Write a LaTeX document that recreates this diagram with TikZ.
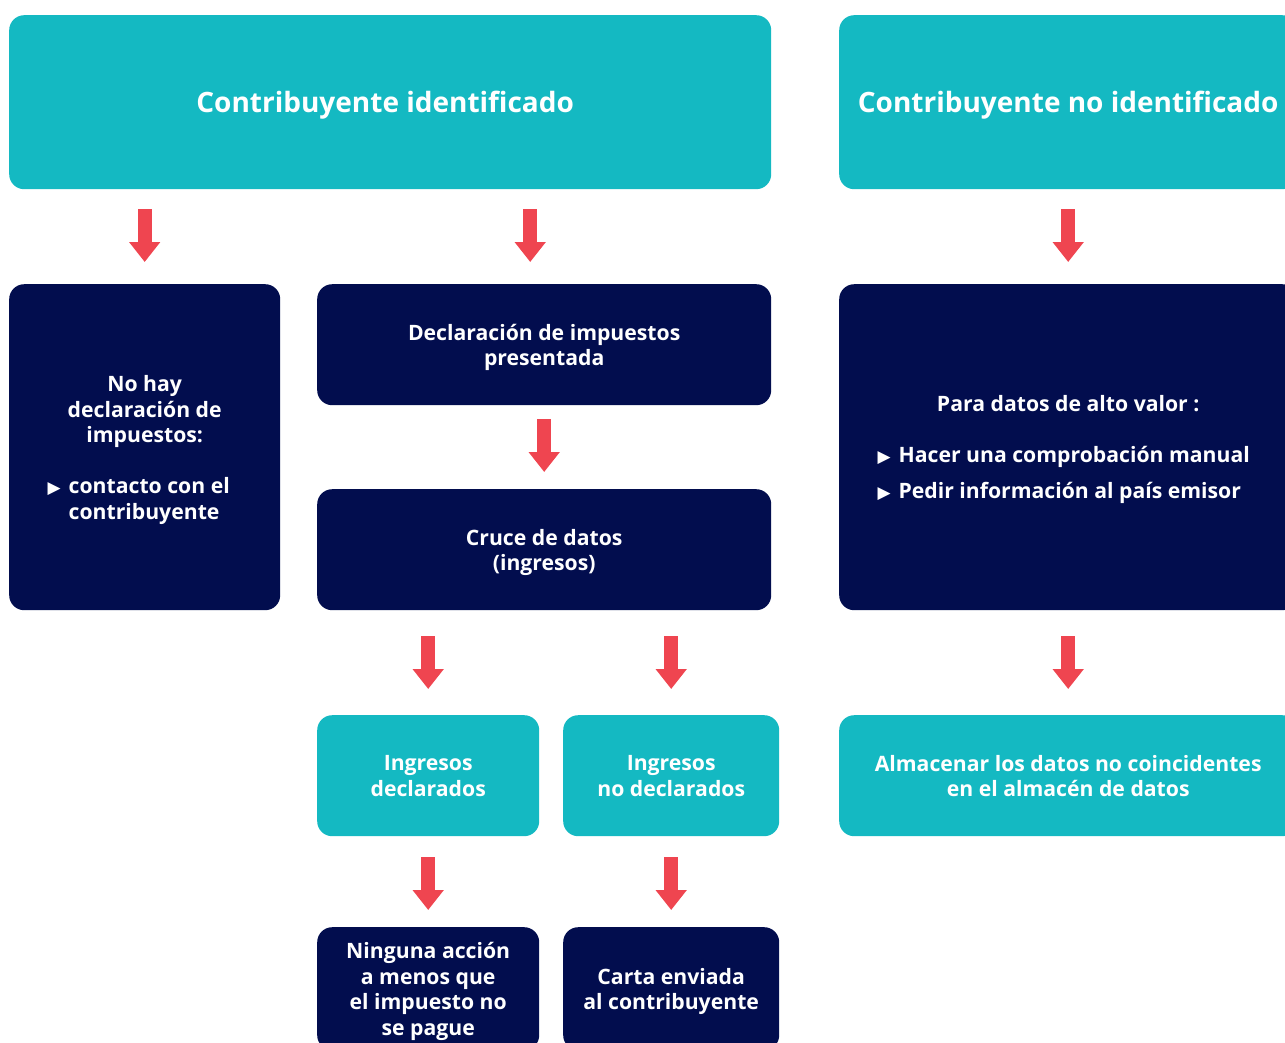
\documentclass[tikz,border=0pt]{standalone}
\usepackage{fontspec}
\setmainfont{Open Sans}
\newfontfamily\symfont{DejaVu Sans}
\usetikzlibrary{arrows.meta}

\definecolor{tealbox}{HTML}{14B9C2}
\definecolor{navybox}{HTML}{020D4E}
\definecolor{redarrow}{HTML}{EF4550}
\newcommand{\bul}{{\symfont\fontsize{17}{17}\selectfont ▶}}

\begin{document}
\begin{tikzpicture}[x=1pt, y=-1pt,
    box/.style={rounded corners=15pt, anchor=north west, align=center, text=white,
        inner sep=0pt, text depth=0pt, font=\bfseries\fontsize{21.2}{25.5}\selectfont},
    lightbox/.style={box, fill=tealbox},
    darkbox/.style={box, fill=navybox},
    title/.style={lightbox, font=\bfseries\fontsize{28}{32}\selectfont},
    flow/.style={draw=redarrow, line width=14pt, -{Triangle[length=20pt, width=30pt]}}]
    % Fix the page size and cut off what runs past it
    \useasboundingbox (0,0) rectangle (1285,1042);
    \clip (0,0) rectangle (1285,1042);

    % Top row: the two kinds of taxpayer
    \node[title, minimum width=762, minimum height=174] (known) at (9,15) {Contribuyente identificado\hspace*{10pt}};
    \node[title, minimum width=458, minimum height=174] (unknown) at (839,15) {Contribuyente no identificado};

    % Second row
    \node[darkbox, text depth=12pt, minimum width=271, minimum height=326] (noreturn) at (9,284)
        {No hay\\declaración de\\impuestos:\\[27pt]
         \begin{tabular}{@{}l@{\hspace{8pt}}l@{}}\bul & contacto con el\\ & contribuyente\end{tabular}\hspace*{12pt}};
    \node[darkbox, minimum width=454, minimum height=121] (return) at (317,284)
        {Declaración de impuestos\\presentada};
    \node[darkbox, text depth=20pt, minimum width=458, minimum height=326] (highvalue) at (839,284)
        {Para datos de alto valor :\\[25pt]
         {\renewcommand{\arraystretch}{1.4}%
         \begin{tabular}{@{}l@{\hspace{8pt}}l@{}}\bul & Hacer una comprobación manual\\ \bul & Pedir información al país emisor\end{tabular}}\hspace*{9pt}};
    \node[darkbox, minimum width=454, minimum height=121] (match) at (317,489)
        {Cruce de datos\\(ingresos)};

    % Third row
    \node[lightbox, minimum width=222, minimum height=121] (declared) at (317,715)
        {Ingresos\\declarados};
    \node[lightbox, minimum width=216, minimum height=121] (undeclared) at (563,715)
        {Ingresos\\no declarados};
    \node[lightbox, minimum width=458, minimum height=121] (store) at (839,715)
        {Almacenar los datos no coincidentes\\en el almacén de datos};

    % Bottom row
    \node[darkbox, minimum width=222, minimum height=123] (noaction) at (317,927)
        {Ninguna acción\\a menos que\\el impuesto no\\se pague};
    \node[darkbox, minimum width=216, minimum height=123] (letter) at (563,927)
        {Carta enviada\\al contribuyente};

    % Red arrows between the rows
    \coordinate (returnin) at ([xshift=-14pt]return.north);
    \draw[flow, shorten <=20pt, shorten >=22pt] (known.south -| noreturn.north) -- (noreturn.north);
    \draw[flow, shorten <=20pt, shorten >=22pt] (known.south -| returnin) -- (returnin);
    \draw[flow, shorten <=20pt, shorten >=22pt] (unknown.south) -- (highvalue.north);
    \draw[flow, shorten <=14pt, shorten >=17pt] (return.south) -- (match.north);
    \draw[flow, shorten <=26pt, shorten >=26pt] (match.south -| declared.north) -- (declared.north);
    \draw[flow, shorten <=26pt, shorten >=26pt] (match.south -| undeclared.north) -- (undeclared.north);
    \draw[flow, shorten <=26pt, shorten >=26pt] (highvalue.south) -- (store.north);
    \draw[flow, shorten <=21pt, shorten >=17pt] (declared.south) -- (noaction.north);
    \draw[flow, shorten <=21pt, shorten >=17pt] (undeclared.south) -- (letter.north);
\end{tikzpicture}
\end{document}
